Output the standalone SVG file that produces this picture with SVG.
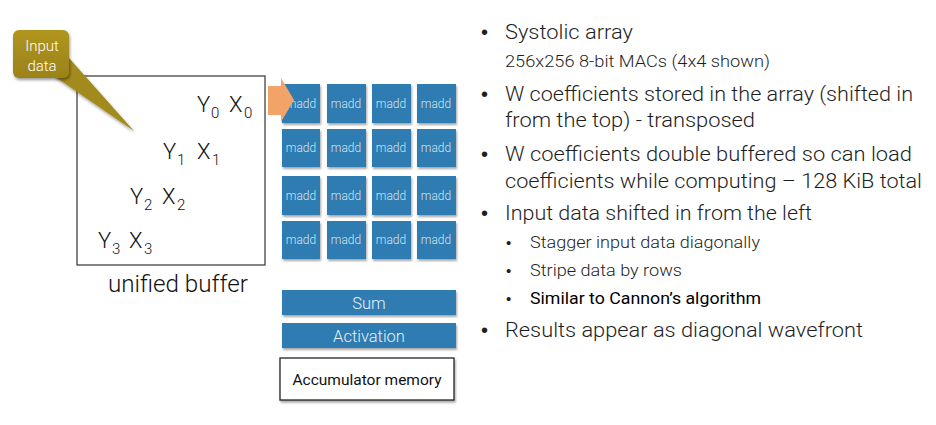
<svg xmlns="http://www.w3.org/2000/svg" width="936" height="425" viewBox="0 0 936 425">
<style>
text{font-family:Roboto,"Liberation Sans",Arial,sans-serif;font-weight:300;fill:#1e1e1e}
.big{font-size:20.5px}
.small{font-size:16px}
.sub{font-size:16.5px}
.dot{font-family:"Liberation Sans",Arial,sans-serif;font-weight:400;font-size:20px;fill:#1e1e1e}
.sdot{font-family:"Liberation Sans",Arial,sans-serif;font-weight:400;font-size:15px;fill:#1e1e1e}
.yx{font-size:22px;fill:#111}
.yxs{font-size:15px;fill:#111}
.cell{fill:#2f7cb1;filter:url(#sh)}
.madd{font-size:12px;fill:#d2e3f0;text-anchor:middle}
.bar{fill:#2f7cb1;filter:url(#sh)}
.bartxt{font-size:16.5px;fill:#e6f0f7;text-anchor:middle}
</style>
<defs>
<filter id="sh" x="-20%" y="-20%" width="150%" height="150%">
<feDropShadow dx="1" dy="2" stdDeviation="1.2" flood-color="#000" flood-opacity="0.35"/>
</filter>
<filter id="sh2" x="-20%" y="-20%" width="150%" height="150%">
<feDropShadow dx="1" dy="2" stdDeviation="1.5" flood-color="#000" flood-opacity="0.4"/>
</filter>
<linearGradient id="olive" x1="0" y1="0" x2="0" y2="1">
<stop offset="0" stop-color="#b0951f"/>
<stop offset="1" stop-color="#9b8219"/>
</linearGradient>
</defs>

<g id="unified-buffer">
<rect x="77" y="76" width="188" height="189" fill="#fff" stroke="#333" stroke-width="1.2"/>
<text x="108" y="292" style="font-size:23px;fill:#111" textLength="140" lengthAdjust="spacingAndGlyphs">unified buffer</text>
</g>

<g id="data">
<text class="yx" x="197" y="112">Y</text><text class="yxs" x="211" y="118">0</text>
<text class="yx" x="229" y="112">X</text><text class="yxs" x="244" y="118">0</text>
<text class="yx" x="163" y="159">Y</text><text class="yxs" x="177" y="165">1</text>
<text class="yx" x="197" y="159">X</text><text class="yxs" x="212" y="165">1</text>
<text class="yx" x="130" y="204">Y</text><text class="yxs" x="144" y="210">2</text>
<text class="yx" x="162" y="204">X</text><text class="yxs" x="177" y="210">2</text>
<text class="yx" x="98" y="248">Y</text><text class="yxs" x="112" y="254">3</text>
<text class="yx" x="129" y="248">X</text><text class="yxs" x="144" y="254">3</text>
</g>

<g id="input-data-callout">
<polygon points="54,76 69,58 134,131" fill="#a38a1c" filter="url(#sh2)"/>
<rect x="13" y="30" width="56" height="48" rx="6" fill="url(#olive)" filter="url(#sh2)"/>
<text x="42" y="51" style="font-size:15px;fill:#fff;text-anchor:middle">Input</text>
<text x="42" y="71" style="font-size:15px;fill:#fff;text-anchor:middle">data</text>
</g>

<g id="systolic-array">
<rect class="cell" x="282" y="84" width="38" height="39"/>
<rect class="cell" x="327" y="84" width="39" height="39"/>
<rect class="cell" x="372" y="84" width="39" height="39"/>
<rect class="cell" x="417" y="84" width="39" height="39"/>
<rect class="cell" x="282" y="129" width="38" height="38"/>
<rect class="cell" x="327" y="129" width="39" height="38"/>
<rect class="cell" x="372" y="129" width="39" height="38"/>
<rect class="cell" x="417" y="129" width="39" height="38"/>
<rect class="cell" x="282" y="176" width="38" height="39"/>
<rect class="cell" x="327" y="176" width="39" height="39"/>
<rect class="cell" x="372" y="176" width="39" height="39"/>
<rect class="cell" x="417" y="176" width="39" height="39"/>
<rect class="cell" x="282" y="221" width="38" height="38"/>
<rect class="cell" x="327" y="221" width="39" height="38"/>
<rect class="cell" x="372" y="221" width="39" height="38"/>
<rect class="cell" x="417" y="221" width="39" height="38"/>
<text class="madd" x="301" y="108">madd</text><text class="madd" x="346" y="108">madd</text><text class="madd" x="391" y="108">madd</text><text class="madd" x="436" y="108">madd</text>
<text class="madd" x="301" y="152">madd</text><text class="madd" x="346" y="152">madd</text><text class="madd" x="391" y="152">madd</text><text class="madd" x="436" y="152">madd</text>
<text class="madd" x="301" y="200">madd</text><text class="madd" x="346" y="200">madd</text><text class="madd" x="391" y="200">madd</text><text class="madd" x="436" y="200">madd</text>
<text class="madd" x="301" y="244">madd</text><text class="madd" x="346" y="244">madd</text><text class="madd" x="391" y="244">madd</text><text class="madd" x="436" y="244">madd</text>
</g>

<g id="connectors">
<polygon points="268,86 281,86 281,78 294,100 281,122 281,115 268,115" fill="#f2a468"/>
</g>

<g id="sum">
<rect class="bar" x="282" y="290" width="174" height="25"/>
<text class="bartxt" x="369" y="309">Sum</text>
</g>
<g id="activation">
<rect class="bar" x="282" y="323" width="174" height="25"/>
<text class="bartxt" x="369" y="342">Activation</text>
</g>
<g id="accumulator-memory">
<rect x="280" y="358" width="174" height="42" fill="#fff" stroke="#222" stroke-width="1.3" filter="url(#sh)"/>
<text x="367" y="385" style="font-size:15.5px;fill:#111;text-anchor:middle;font-weight:400">Accumulator memory</text>
</g>

<g id="bullets">
<text class="dot" x="481" y="39">•</text>
<text class="big" x="505" y="39" textLength="128" lengthAdjust="spacingAndGlyphs">Systolic array</text>
<text class="small" x="505" y="67" textLength="265" lengthAdjust="spacingAndGlyphs">256x256 8-bit MACs (4x4 shown)</text>
<text class="dot" x="481" y="101">•</text>
<text class="big" x="505" y="101" textLength="408" lengthAdjust="spacingAndGlyphs">W coefficients stored in the array (shifted in</text>
<text class="big" x="505" y="127" textLength="250" lengthAdjust="spacingAndGlyphs">from the top) - transposed</text>
<text class="dot" x="481" y="161">•</text>
<text class="big" x="505" y="161" textLength="407" lengthAdjust="spacingAndGlyphs">W coefficients double buffered so can load</text>
<text class="big" x="505" y="188" textLength="417" lengthAdjust="spacingAndGlyphs">coefficients while computing – 128 KiB total</text>
<text class="dot" x="481" y="220">•</text>
<text class="big" x="505" y="220" textLength="307" lengthAdjust="spacingAndGlyphs">Input data shifted in from the left</text>
<text class="sdot" x="506" y="248">•</text>
<text class="sub" x="530" y="248" textLength="230" lengthAdjust="spacingAndGlyphs">Stagger input data diagonally</text>
<text class="sdot" x="506" y="276">•</text>
<text class="sub" x="530" y="276" textLength="152" lengthAdjust="spacingAndGlyphs">Stripe data by rows</text>
<text class="sdot" x="506" y="304">•</text>
<text class="sub" x="530" y="304" style="font-weight:400;fill:#000" textLength="231" lengthAdjust="spacingAndGlyphs">Similar to Cannon’s algorithm</text>
<text class="dot" x="481" y="337">•</text>
<text class="big" x="505" y="337" textLength="358" lengthAdjust="spacingAndGlyphs">Results appear as diagonal wavefront</text>
</g>
</svg>
